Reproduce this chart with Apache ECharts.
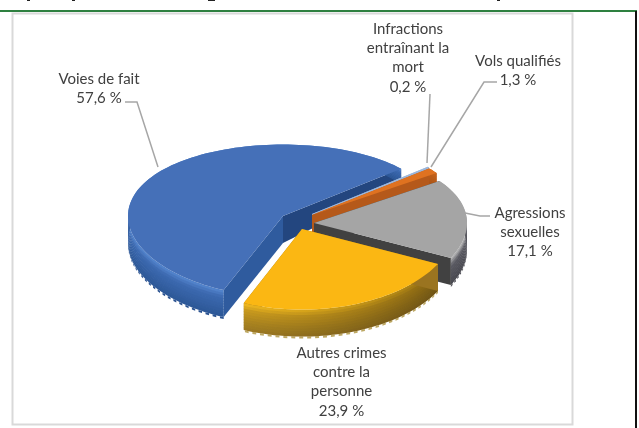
<!DOCTYPE html>
<html><head><meta charset="utf-8">
<style>html,body{margin:0;padding:0;background:#fff}#c{width:639px;height:428px}</style>
<script src="https://cdn.jsdelivr.net/npm/echarts@6/dist/echarts.min.js"></script>
</head><body><div id="c"></div>
<script>
// ---- data ----
const categories = ['Voies de fait','Infractions entraînant la mort','Vols qualifiés','Agressions sexuelles','Autres crimes contre la personne'];
const values = [57.6, 0.2, 1.3, 17.1, 23.9];
const labelLines = [['Voies de fait'],['Infractions','entraînant la','mort'],['Vols qualifiés'],['Agressions','sexuelles'],['Autres crimes','contre la','personne']];
const valueLabels = ['57,6 %','0,2 %','1,3 %','17,1 %','23,9 %'];

// ---- geometry / style ----
const startDeg = 202.5;
const P = {b:76,k:.06,D:27,kd:.65};
const radiusX = [155,152,152,153,152];
const centers = [[283,216],[312,214],[312,215],[314,223],[302,229]];
const faces = [
 {top:'#4570b8',wallIn:'#23467f',wallOut:'#2f5b9e',rim:[['#5688d0',0],['#3c69b0',.28],['#2c5796',1]],tooth:'#2a5290',shade:0},
 {top:'#9db7da',wallIn:'#9db7da',wallOut:'#9db7da',rim:[['#9db7da',0],['#9db7da',1]],tooth:'#9db7da',shade:0},
 {top:'#df7220',wallIn:'#b5591a',wallOut:'#b5591a',rim:[['#c9651c',0],['#a85418',1]],tooth:'#a85418',shade:0},
 {top:'#a5a5a5',wallIn:'#414141',wallOut:'#414141',rim:[['#bdbdbd',0],['#5a5a62',.3],['#48484f',1]],tooth:'#55555c',shade:0},
 {top:'#fbb713',wallIn:'#9a7420',wallOut:'#9a7420',rim:[['#f5bc1e',0],['#c99a1e',.25],['#a98420',.7],['#9a7722',1]],tooth:'#bda863',shade:.38}
];
const labelPos = [[99,79],[408,29],[518,61],[530,213],[341.5,353]];
const lineH = 19.3;
const leaders = [
 [[125,102],[137,102],[158,167]],
 [[430,94],[427,163]],
 [[497,82],[484,82],[431,167]],
 [[490,216],[480,216],[465,213]],
 null
];
const topFragments = [[27,3],[72,3],[208,7],[497,3]];
const rad = d=>d*Math.PI/180;
const sum = values.reduce((a,b)=>a+b,0);
let acc = startDeg;
const spans = values.map(v=>{const s=acc; acc+=v/sum*360; return [s,acc];});

// frac: 0 = top face level, 1 = bottom of the slice
function pt(i,deg,r,frac,extra){
  const c=centers[i], s=Math.sin(rad(deg)), cs=Math.cos(rad(deg)), yn=-r*cs;
  const x=c[0]+radiusX[i]*r*s;
  let y=c[1]+P.b*yn*(1+P.k*yn);
  if(frac) y+=frac*P.D*(1-P.kd*Math.max(0,r*cs))+(extra||0);
  return [x,y];
}
function arc(i,a0,a1,frac){const out=[];const n=Math.max(2,Math.ceil((a1-a0)/2));for(let k=0;k<=n;k++)out.push(pt(i,a0+(a1-a0)*k/n,1,frac));return out;}
const poly=(points,fill)=>({type:'polygon',silent:true,shape:{points},style:{fill}});
function rimColor(stops,t){
  for(let k=1;k<stops.length;k++){
    if(t<=stops[k][1]){const u=(t-stops[k-1][1])/(stops[k][1]-stops[k-1][1]);return echarts.color.lerp(u,[stops[k-1][0],stops[k][0]]);}
  }
  return stops[stops.length-1][0];
}
function renderSlice(params,api){
  const i=params.dataIndex, f=faces[i], [a0,a1]=spans[i];
  const kids=[];
  // rear cut wall (from apex to end rim)
  kids.push(poly([pt(i,a1,0,0),pt(i,a1,1,0),pt(i,a1,1,1),pt(i,a1,0,1)],f.wallIn));
  // toothed lower edge seen in the picture
  const t=1.5; let n=0;
  for(let d=a0;d<a1;d+=t,n++){
    if(n%2===0 && Math.cos(rad(d))<0.1){const e=Math.min(a1,d+t);kids.push(poly([pt(i,d,1,1),pt(i,e,1,1),pt(i,e,1,1,2),pt(i,d,1,1,2)],f.tooth));}
  }
  // outer wall: stacked horizontal bands following the arc
  const bands=10;
  for(let b=0;b<bands;b++){
    const u0=b/bands,u1=Math.min(1,(b+1.3)/bands);
    kids.push(poly(arc(i,a0,a1,u0).concat(arc(i,a0,a1,u1).reverse()),rimColor(f.rim,(b+.5)/bands)));
  }
  if(f.shade){
    kids.push(poly(arc(i,a0,a1,0).concat(arc(i,a0,a1,1).reverse()),
      new echarts.graphic.LinearGradient(0,0,1,0,[{offset:0,color:'rgba(40,25,0,0)'},{offset:1,color:'rgba(40,25,0,'+f.shade+')'}])));
  }
  // front cut wall (from apex to start rim)
  kids.push(poly([pt(i,a0,0,0),pt(i,a0,1,0),pt(i,a0,1,1),pt(i,a0,0,1)],f.wallOut));
  // top face
  kids.push(poly([pt(i,a0,0,0)].concat(arc(i,a0,a1,0)),f.top));
  return {type:'group',children:kids};
}
function renderLabel(params,api){
  const i=params.dataIndex,[x,y0]=labelPos[i];
  const kids=[];
  const lines=labelLines[i].concat([valueLabels[i]]);
  lines.forEach((t,k)=>kids.push({type:'text',silent:true,style:{text:t,x:x,y:y0+k*lineH,align:'center',verticalAlign:'middle',fill:'#404040',font:'15px Lato'}}));
  if(leaders[i]) kids.push({type:'polyline',silent:true,shape:{points:leaders[i]},style:{stroke:'#a6a6a6',lineWidth:1.5,fill:null}});
  return {type:'group',children:kids};
}
const chart=echarts.init(document.getElementById('c'),null,{renderer:'canvas'});
chart.setOption({
 animation:false,backgroundColor:'#fff',
 graphic:[
  {type:'rect',z:0,shape:{x:12.5,y:13.5,width:560,height:411},style:{fill:'#fff',stroke:'#d9d9d9',lineWidth:2}},
  {type:'rect',z:1,shape:{x:0,y:10,width:637,height:2},style:{fill:'#2e8040'}},
  {type:'rect',z:1,shape:{x:635,y:11,width:2,height:417},style:{fill:'#111'}}
 ].concat(topFragments.map(f=>({type:'rect',z:1,shape:{x:f[0],y:0,width:f[1],height:1},style:{fill:'#222'}}))),
 series:[
  {type:'custom',coordinateSystem:'none',renderItem:renderSlice,data:values,z:2,silent:true},
  {type:'custom',coordinateSystem:'none',renderItem:renderLabel,data:values,z:3,silent:true}
 ]
});
</script></body></html>
